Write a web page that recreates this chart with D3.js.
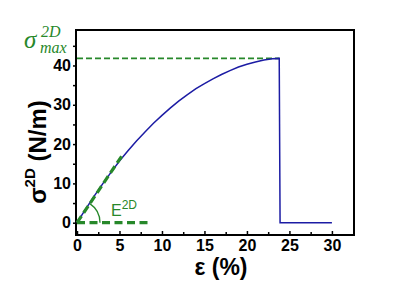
<!DOCTYPE html>
<html>
<head>
<meta charset="utf-8">
<script src="https://cdn.jsdelivr.net/npm/d3@7"></script>
<style>
  body { margin: 0; background: #fff; }
  svg text { font-family: "Liberation Sans", Arial, sans-serif; }
</style>
</head>
<body>
<div id="d3"></div>
<script>
// stress-strain curve
const strain = [0, 1, 2, 3, 4, 5, 6, 7, 8, 9, 10, 11, 12, 13, 14, 15, 16, 17, 18, 19, 20, 21, 22, 23, 23.8, 23.9, 30];
const stress = [0, 3.4, 6.7, 9.8, 12.8, 15.7, 18.3, 20.8, 23.1, 25.3, 27.3, 29.2, 31.0, 32.6, 34.1, 35.4, 36.6, 37.7, 38.7, 39.6, 40.3, 40.9, 41.4, 41.7, 41.8, 0, 0];

// guide lines
const maxStress = 41.8;
const maxStrain = 23.8;
const slopeEnd = [5.5, 17.7];
const baseEnd = 8.8;

const xTicks = [0, 5, 10, 15, 20, 25, 30];
const xMinor = [2.5, 7.5, 12.5, 17.5, 22.5, 27.5];
const yTicks = [0, 10, 20, 30, 40];
const yMinor = [5, 15, 25, 35, 45];

const width = 400, height = 294;
const blue = "#1c1ca4", green = "#27882a";

const svg = d3.select("#d3").append("svg")
  .attr("width", width)
  .attr("height", height);

const x = d3.scaleLinear().domain([0, 32.6]).range([77, 354]);
const y = d3.scaleLinear().domain([-3, 49.1]).range([234.5, 29.7]);

// frame
svg.append("rect")
  .attr("x", 76).attr("y", 30)
  .attr("width", 354 - 76).attr("height", 235 - 30)
  .attr("fill", "none").attr("stroke", "#000").attr("stroke-width", 2);

// x axis (ticks pointing in)
svg.append("g")
  .attr("transform", "translate(0,235)")
  .call(d3.axisBottom(x).tickValues(xTicks).tickSize(-4).tickSizeOuter(0).tickPadding(5));
svg.append("g")
  .attr("transform", "translate(0,235)")
  .call(d3.axisBottom(x).tickValues(xMinor).tickSize(-3).tickSizeOuter(0).tickFormat(""));

// y axis (ticks pointing out)
svg.append("g")
  .attr("transform", "translate(76,0)")
  .call(d3.axisLeft(y).tickValues(yTicks).tickSize(3).tickSizeOuter(0).tickPadding(2));
svg.append("g")
  .attr("transform", "translate(76,0)")
  .call(d3.axisLeft(y).tickValues(yMinor).tickSize(3).tickSizeOuter(0).tickFormat(""));

svg.selectAll(".domain").attr("stroke", "none");
svg.selectAll(".tick line").attr("stroke", "#000").attr("stroke-width", 1.5);
svg.selectAll(".tick text")
  .attr("fill", "#000")
  .style("font-size", "16px")
  .style("font-weight", "bold");

// sigma max dashed line
svg.append("line")
  .attr("x1", x(0)).attr("x2", x(maxStrain))
  .attr("y1", y(maxStress)).attr("y2", y(maxStress))
  .attr("stroke", green).attr("stroke-width", 1.6)
  .attr("stroke-dasharray", "6,3");

// curve
const line = d3.line().x((d) => x(d[0])).y((d) => y(d[1]));
svg.append("path")
  .datum(strain.map((s, i) => [s, stress[i]]))
  .attr("d", line)
  .attr("fill", "none")
  .attr("stroke", blue)
  .attr("stroke-width", 1.5);

// E2D guide lines
svg.append("line")
  .attr("x1", x(0)).attr("y1", y(0))
  .attr("x2", x(baseEnd)).attr("y2", y(0))
  .attr("stroke", green).attr("stroke-width", 3.2)
  .attr("stroke-dasharray", "8,4.5");
svg.append("line")
  .attr("x1", x(0)).attr("y1", y(0))
  .attr("x2", x(slopeEnd[0])).attr("y2", y(slopeEnd[1]))
  .attr("stroke", green).attr("stroke-width", 3.2)
  .attr("stroke-dasharray", "8,4");

// angle arc
const ang = Math.atan2(y(0) - y(slopeEnd[1]), x(slopeEnd[0]) - x(0));
svg.append("path")
  .attr("transform", `translate(${x(0)},${y(0)})`)
  .attr("d", d3.arc()({ innerRadius: 23, outerRadius: 23, startAngle: Math.PI / 2 - ang, endAngle: Math.PI / 2 }))
  .attr("fill", "none")
  .attr("stroke", green)
  .attr("stroke-width", 1.3);

// E2D label
const eLab = svg.append("text")
  .attr("x", 111).attr("y", 216)
  .attr("fill", green)
  .style("font-size", "16px");
eLab.append("tspan").text("E");
eLab.append("tspan").attr("dy", -7).style("font-size", "12px").text("2D");

// sigma max label
const serif = "'Liberation Serif', 'Times New Roman', serif";
const sLab = svg.append("g")
  .attr("fill", green)
  .style("font-style", "italic");
sLab.append("text").attr("x", 24).attr("y", 48).style("font-size", "25px").style("font-family", serif).text("σ");
sLab.append("text").attr("x", 41).attr("y", 37).style("font-size", "16px").style("font-family", serif).text("2D");
sLab.append("text").attr("x", 40).attr("y", 53).style("font-size", "16px").style("font-family", serif).text("max");

// axis titles
svg.append("text")
  .attr("x", 221).attr("y", 275)
  .attr("text-anchor", "middle")
  .style("font-size", "23px")
  .style("font-weight", "bold")
  .text("ε (%)");

const yt = svg.append("text")
  .attr("transform", "translate(46,152) rotate(-90)")
  .attr("text-anchor", "middle")
  .style("font-size", "24px")
  .style("font-weight", "bold");
yt.append("tspan").text("σ");
yt.append("tspan").attr("dy", -11).style("font-size", "15px").text("2D");
yt.append("tspan").attr("dy", 11).text(" (N/m)");
</script>
</body>
</html>
